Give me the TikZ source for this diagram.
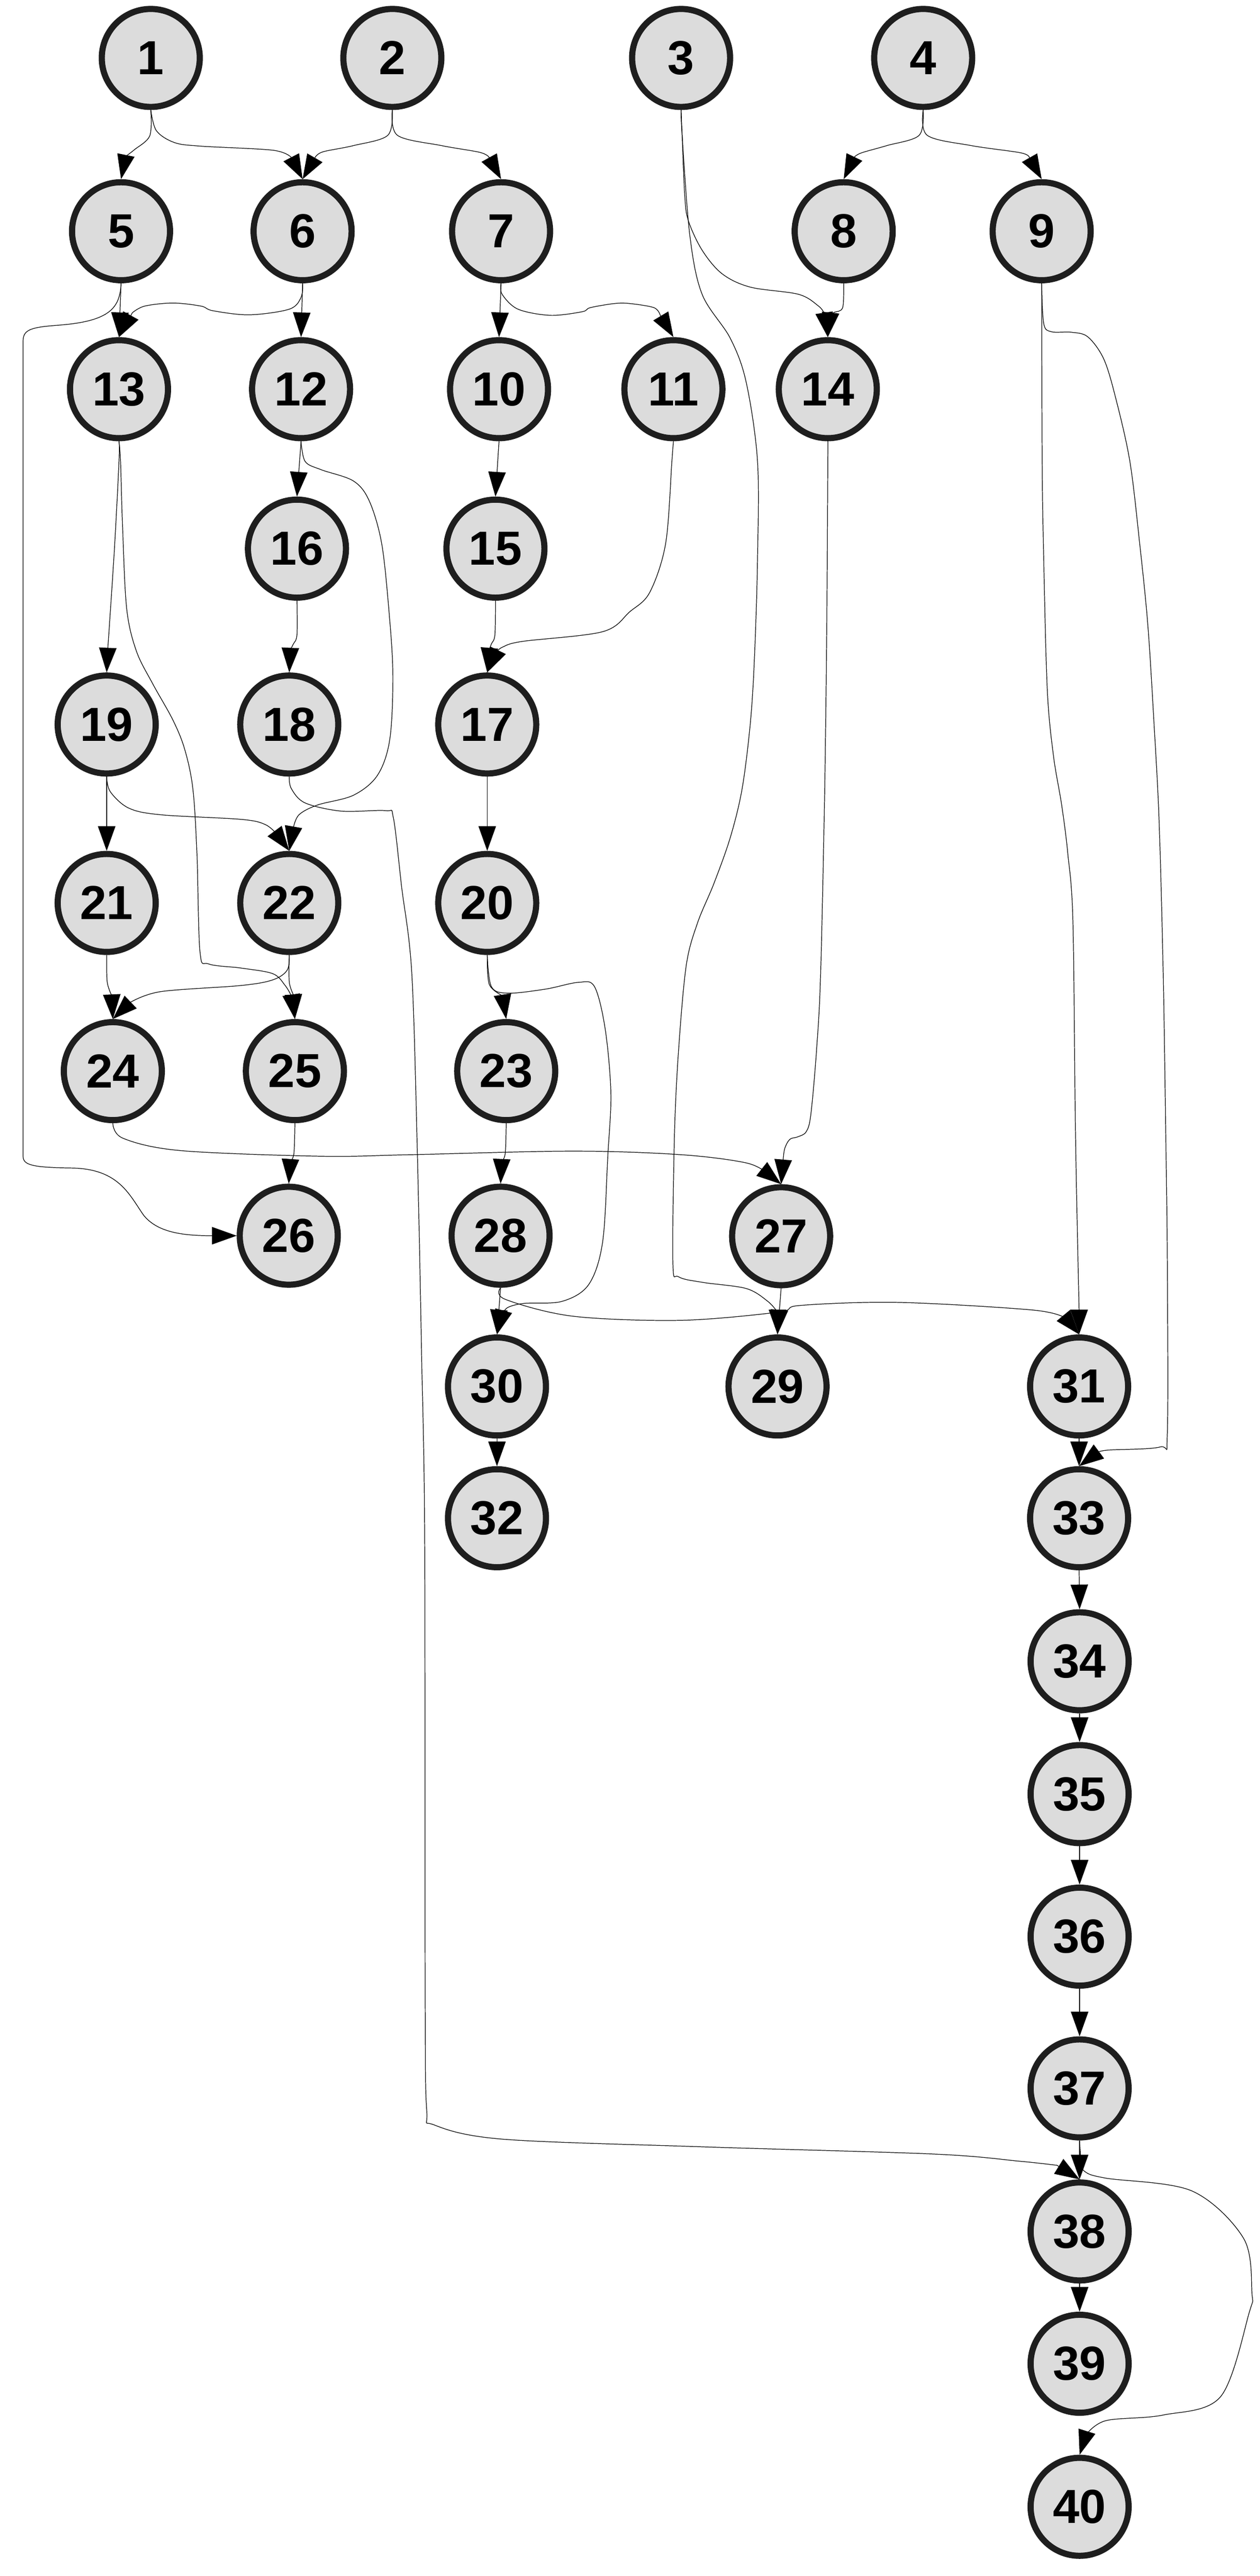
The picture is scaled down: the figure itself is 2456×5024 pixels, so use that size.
\documentclass[tikz,border=0pt]{standalone}
\usepackage{fontspec}
\setmainfont{Liberation Sans}
\usetikzlibrary{arrows.meta}
\definecolor{nodefill}{HTML}{DCDCDC}
\definecolor{nodeline}{HTML}{1E1E1E}
\tikzset{
  nd/.style={circle, draw=nodeline, fill=nodefill, line width=0.12cm, minimum size=1.91cm, inner sep=0pt,
    font=\fontsize{26.5pt}{30pt}\selectfont\bfseries},
  conn/.style={draw=black, line width=0.35pt, -{Triangle[length=0.48cm, width=0.34cm]}},
  sm/.style={smooth, tension=0.55}
}
\begin{document}
\begin{tikzpicture}[x=0.01cm, y=-0.01cm]
\useasboundingbox (0,0) rectangle (2456,5024);
% nodes
\node[nd] (n1) at (294,113) {1};
\node[nd] (n2) at (765,113) {2};
\node[nd] (n3) at (1328,113) {3};
\node[nd] (n4) at (1800,113) {4};
\node[nd] (n5) at (236,451) {5};
\node[nd] (n6) at (590,451) {6};
\node[nd] (n7) at (977,451) {7};
\node[nd] (n8) at (1645,451) {8};
\node[nd] (n9) at (2031,451) {9};
\node[nd] (n13) at (232,759) {13};
\node[nd] (n12) at (587,759) {12};
\node[nd] (n10) at (973,759) {10};
\node[nd] (n11) at (1313,759) {11};
\node[nd] (n14) at (1614,759) {14};
\node[nd] (n16) at (579,1070) {16};
\node[nd] (n15) at (966,1070) {15};
\node[nd] (n19) at (208,1413) {19};
\node[nd] (n18) at (564,1413) {18};
\node[nd] (n17) at (950,1413) {17};
\node[nd] (n21) at (208,1761) {21};
\node[nd] (n22) at (564,1761) {22};
\node[nd] (n20) at (950,1761) {20};
\node[nd] (n24) at (220,2089) {24};
\node[nd] (n25) at (575,2089) {25};
\node[nd] (n23) at (987,2089) {23};
\node[nd] (n26) at (563,2410) {26};
\node[nd] (n28) at (976,2410) {28};
\node[nd] (n27) at (1523,2411) {27};
\node[nd] (n30) at (969,2704) {30};
\node[nd] (n29) at (1516,2704) {29};
\node[nd] (n31) at (2104,2704) {31};
\node[nd] (n32) at (969,2961) {32};
\node[nd] (n33) at (2104,2961) {33};
\node[nd] (n34) at (2105,3240) {34};
\node[nd] (n35) at (2105,3499) {35};
\node[nd] (n36) at (2105,3777) {36};
\node[nd] (n37) at (2105,4073) {37};
\node[nd] (n38) at (2105,4352) {38};
\node[nd] (n39) at (2105,4610) {39};
\node[nd] (n40) at (2105,4889) {40};
% edges
\draw[conn] plot[sm] coordinates {(n1.south) (292,265) (262,292) (245,305)} -- (n5.north);
\draw[conn] plot[sm] coordinates {(n1.south) (305,255) (340,278) (391,285) (532,293) (568,307)} -- (n6.north);
\draw[conn] plot[sm] coordinates {(n2.south) (756,264) (689,284) (630,296) (615,306)} -- (n6.north);
\draw[conn] plot[sm] coordinates {(n2.south) (775,264) (861,284) (935,297) (953,306)} -- (n7.north);
\draw[conn] plot[sm] coordinates {(n4.south) (1792,264) (1729,284) (1680,298) (1666,306)} -- (n8.north);
\draw[conn] plot[sm] coordinates {(n4.south) (1808,264) (1894,284) (1990,298) (2007,307)} -- (n9.north);
\draw[conn] plot[sm] coordinates {(n3.south) (1330,264) (1335,380) (1342,430) (1369,488) (1408,534) (1463,560) (1557,574) (1596,597) (1607,611)} -- (n14.north);
\draw[conn] plot[sm] coordinates {(n8.south) (1643,600) (1627,609) (1619,613)} -- (n14.north);
\draw[conn] plot[sm] coordinates {(n3.south) (1330,264) (1345,459) (1369,574) (1424,660) (1455,746) (1477,900) (1477,1091) (1471,1283) (1463,1410) (1447,1538) (1424,1633) (1392,1723) (1360,1800) (1338,1883) (1323,2049) (1315,2215) (1312,2463) (1323,2490) (1370,2501) (1455,2513) (1497,2538) (1516,2559)} -- (n29.north);
\draw[conn] plot[sm] coordinates {(n9.south) (2032,900) (2035,1091) (2042,1346) (2054,1474) (2070,1570) (2082,1665) (2092,1800) (2097,2215) (2104,2556)} -- (n31.north);
\draw[conn] plot[sm] coordinates {(n9.south) (2035,631) (2050,647) (2089,648) (2121,657) (2152,700) (2175,775) (2203,900) (2222,1059) (2238,1219) (2250,1410) (2260,1602) (2268,1900) (2273,2215) (2276,2463) (2276,2795) (2262,2822) (2162,2828) (2141,2832)} -- (n33.north);
\draw[conn] (n5.south) -- (n13.north);
\draw[conn] plot[sm] coordinates {(n6.south) (587,580) (564,603) (486,614) (415,606) (392,597) (337,591) (282,597) (258,610)} -- (n13.north);
\draw[conn] (n6.south) -- (n12.north);
\draw[conn] (n5.south) .. controls (234,600) and (215,626) .. (117,634)
  .. controls (62,638) and (45,642) .. (45,665) -- (45,2255)
  .. controls (45,2272) and (62,2277) .. (141,2278)
  .. controls (232,2280) and (252,2330) .. (280,2370)
  .. controls (308,2405) and (360,2410) .. (415,2410) -- (n26.west);
\draw[conn] (n7.south) -- (n10.north);
\draw[conn] plot[sm] coordinates {(n7.south) (979,574) (1010,603) (1073,615) (1135,608) (1151,600) (1198,592) (1228,592) (1275,600) (1287,614)} -- (n11.north);
\draw[conn] plot[sm] coordinates {(n13.south) (232,900) (223,1072) (210,1268)} -- (n19.north);
\draw[conn] plot[sm] coordinates {(n13.south) (235,900) (239,1028) (247,1187) (266,1270) (298,1334) (337,1404) (360,1461) (376,1538) (384,1665) (390,1857) (407,1880) (470,1888) (532,1899) (556,1922) (568,1942)} -- (n25.north);
\draw[conn] (n12.south) -- (n16.north);
\draw[conn] plot[sm] coordinates {(n12.south) (595,900) (626,916) (689,938) (720,977) (744,1059) (758,1187) (766,1315) (760,1442) (736,1512) (689,1551) (619,1570) (583,1589) (572,1614)} -- (n22.north);
\draw[conn] (n10.south) -- (n15.north);
\draw[conn] plot[sm] coordinates {(n11.south) (1310,900) (1298,1059) (1267,1155) (1228,1193) (1175,1232) (1018,1251) (980,1262) (970,1270)} -- (n17.north);
\draw[conn] plot[sm] coordinates {(n16.south) (579,1238) (572,1256) (566,1267)} -- (n18.north);
\draw[conn] plot[sm] coordinates {(n15.south) (965,1238) (958,1256) (954,1267)} -- (n17.north);
\draw[conn] plot[sm] coordinates {(n14.south) (1614,900) (1612,1219) (1608,1538) (1600,1900) (1592,2049) (1581,2173) (1572,2207) (1556,2217) (1540,2222) (1530,2240) (1527,2262)} -- (n27.north);
\draw[conn] (n19.south) -- (n21.north);
\draw[conn] plot[sm] coordinates {(n19.south) (215,1544) (251,1576) (313,1589) (470,1598) (517,1608) (540,1627)} -- (n22.north);
\draw[conn] plot[sm] coordinates {(n18.south) (568,1538) (595,1566) (666,1582) (752,1581) (767,1595) (783,1729) (803,1900) (814,2259) (822,2642) (828,3000) (829,3900) (832,4115) (846,4144) (980,4172) (1372,4187) (1820,4201) (1988,4215) (2061,4223)} -- (n38.north);
\draw[conn] (n17.south) -- (n20.north);
\draw[conn] plot[sm] coordinates {(n21.south) (209,1915) (218,1942)} -- (n24.north);
\draw[conn] plot[sm] coordinates {(n22.south) (560,1892) (532,1911) (470,1922) (313,1934) (254,1955)} -- (n24.north);
\draw[conn] plot[sm] coordinates {(n22.south) (564,1915) (572,1940)} -- (n25.north);
\draw[conn] plot[sm] coordinates {(n20.south) (954,1920) (980,1942)} -- (n23.north);
\draw[conn] plot[sm] coordinates {(n20.south) (958,1924) (990,1937) (1064,1929) (1127,1916) (1159,1924) (1180,2007) (1191,2132) (1185,2256) (1175,2422) (1148,2505) (1096,2538) (1022,2542) (990,2550) (980,2563)} -- (n30.north);
\draw[conn] plot[sm] coordinates {(n24.south) (240,2220) (352,2244) (626,2255) (800,2252) (1117,2245) (1328,2252) (1455,2268) (1497,2289)} -- (n27.north);
\draw[conn] plot[sm] coordinates {(n25.south) (573,2250) (566,2265)} -- (n26.north);
\draw[conn] plot[sm] coordinates {(n23.south) (985,2250) (978,2265)} -- (n28.north);
\draw[conn] (n28.south) -- (n30.north);
\draw[conn] plot[sm] coordinates {(n28.south) (985,2534) (1117,2567) (1328,2575) (1518,2559) (1560,2546) (1750,2540) (2014,2555) (2078,2571)} -- (n31.north);
\draw[conn] (n27.south) -- (n29.north);
\draw[conn] (n30.south) -- (n32.north);
\draw[conn] (n31.south) -- (n33.north);
\draw[conn] (n33.south) -- (n34.north);
\draw[conn] (n34.south) -- (n35.north);
\draw[conn] (n35.south) -- (n36.north);
\draw[conn] (n36.south) -- (n37.north);
\draw[conn] (n37.south) -- (n38.north);
\draw[conn] (n38.south) -- (n39.north);
\draw[conn] plot[sm] coordinates {(n37.south) (2108,4215) (2115,4235) (2156,4248) (2324,4273) (2425,4366) (2441,4473) (2436,4509) (2380,4674) (2268,4710) (2156,4721) (2117,4749)} -- (n40.north);
\end{tikzpicture}
\end{document}
